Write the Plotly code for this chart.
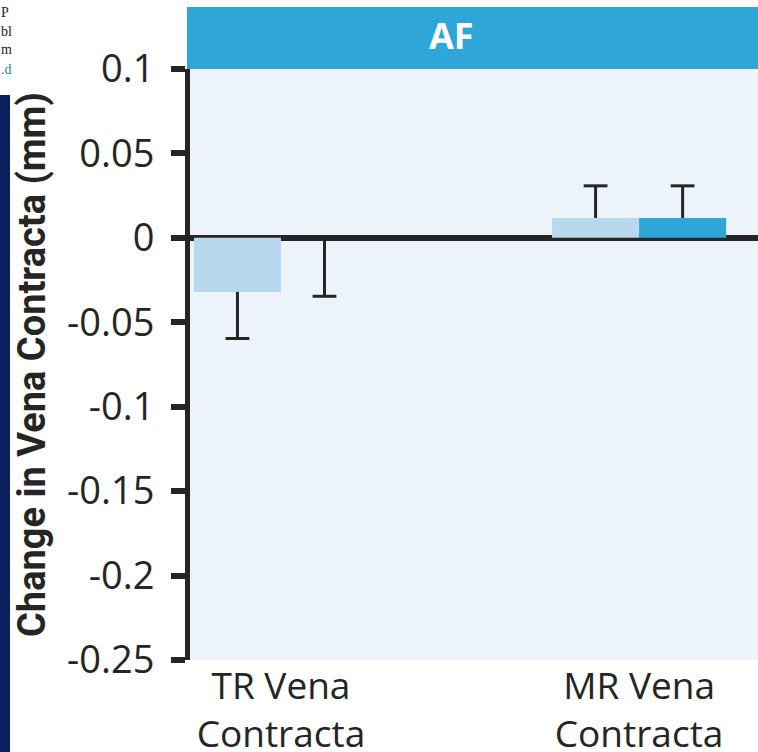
import plotly.graph_objects as go

# ---- data ----
categories = ["TR Vena<br>Contracta", "MR Vena<br>Contracta"]
series_names = ["Series A", "Series B"]
light_values = [-0.032, 0.0118]
light_err_plus = [0.0, 0.019]
light_err_minus = [0.0276, 0.0]
dark_values = [0.0, 0.0118]
dark_err_plus = [0.0, 0.019]
dark_err_minus = [0.0346, 0.0]
tick_vals = [0.1, 0.05, 0, -0.05, -0.1, -0.15, -0.2, -0.25]
tick_text = ["0.1", "0.05", "0", "-0.05", "-0.1", "-0.15", "-0.2", "-0.25"]
panel_title = "AF"
y_title = "Change in Vena Contracta (mm)"
side_snippets = ["P", "bl", "m", ".d"]

W, H = 758, 752
L, R, T, B = 190, 0, 69, 92
PW, PH = W - L - R, H - T - B

def px(x):
    return (x - L) / PW

def py(y):
    return (H - B - y) / PH

INK = "#252525"
LIGHT = "#b8d8ee"
DARK = "#2ea7d8"
BARGAP = 0.514
HALF = (1 - BARGAP) / 4  # offset of each bar centre from category centre

xpos = list(range(len(categories)))

fig = go.Figure()
fig.add_trace(go.Bar(
    x=xpos, y=light_values, name=series_names[0], marker_color=LIGHT,
    marker_line_width=0,
    error_y=dict(type="data", symmetric=False, array=light_err_plus,
                 arrayminus=light_err_minus, color=INK, thickness=3, width=0),
))
fig.add_trace(go.Bar(
    x=xpos, y=dark_values, name=series_names[1], marker_color=DARK,
    marker_line_width=0,
    error_y=dict(type="data", symmetric=False, array=dark_err_plus,
                 arrayminus=dark_err_minus, color=INK, thickness=3, width=0),
))

# error-bar caps at the far end only
for vals, plus, minus, sign in [(light_values, light_err_plus, light_err_minus, -1),
                                (dark_values, dark_err_plus, dark_err_minus, 1)]:
    fig.add_trace(go.Scatter(
        x=[i + sign * HALF for i in xpos],
        y=[v + p - m for v, p, m in zip(vals, plus, minus)],
        mode="markers", hoverinfo="skip",
        marker=dict(symbol="line-ew", size=17, line=dict(width=3, color=INK)),
    ))

fig.update_layout(
    width=W, height=H,
    margin=dict(l=L, r=R, t=T, b=B, pad=0, autoexpand=False),
    paper_bgcolor="white", plot_bgcolor="#ecf3fa",
    barmode="group", bargap=BARGAP, bargroupgap=0,
    showlegend=False,
    font=dict(family="Open Sans", color=INK),
    xaxis=dict(range=[-0.254, 1.332], tickvals=xpos, ticktext=categories,
               showgrid=False, showline=False, ticks="", zeroline=False,
               automargin=False, ticklabelstandoff=1,
               tickfont=dict(size=37, color=INK, family="Open Sans")),
    yaxis=dict(range=[-0.25, 0.1], tickvals=tick_vals, ticktext=tick_text,
               showgrid=False, showline=True, linewidth=5, linecolor=INK,
               ticks="outside", ticklen=14, tickwidth=6, tickcolor=INK,
               zeroline=True, zerolinewidth=6, zerolinecolor=INK,
               automargin=False, ticklabelstandoff=9,
               tickfont=dict(size=38, color=INK, family="Open Sans")),
)

# header bar
fig.add_shape(type="rect", xref="paper", yref="paper",
              x0=px(187), x1=px(W), y0=py(69), y1=py(7),
              fillcolor=DARK, line_width=0, layer="above")
fig.add_annotation(text="<b>" + panel_title + "</b>", xref="paper", yref="paper",
                   x=px(451), y=py(36), xanchor="center", yanchor="middle",
                   showarrow=False, font=dict(size=36, color="white", family="Open Sans"))

# y title
fig.add_annotation(text="<b>" + y_title + "</b>", xref="paper", yref="paper",
                   x=px(32), y=py(365), xanchor="center", yanchor="middle",
                   textangle=-90, showarrow=False,
                   font=dict(size=38, color=INK, family="Roboto"))

# left navy strip
fig.add_shape(type="rect", xref="paper", yref="paper",
              x0=px(0), x1=px(10), y0=py(H), y1=py(95),
              fillcolor="#0b1f5c", line_width=0, layer="above")

# clipped side text snippets
snip_y = [12, 31, 50, 70]
for i, s in enumerate(side_snippets):
    fig.add_annotation(text=s, xref="paper", yref="paper", x=px(-1), y=py(snip_y[i]),
                       xanchor="left", yanchor="middle", showarrow=False,
                       font=dict(size=14, family="Liberation Serif",
                                 color="#2a7ab8" if s == ".d" else "#222222"))

fig.write_html("out.html", config={"displayModeBar": False},
               post_script="document.body.style.margin='0';document.body.style.overflow='hidden';")
